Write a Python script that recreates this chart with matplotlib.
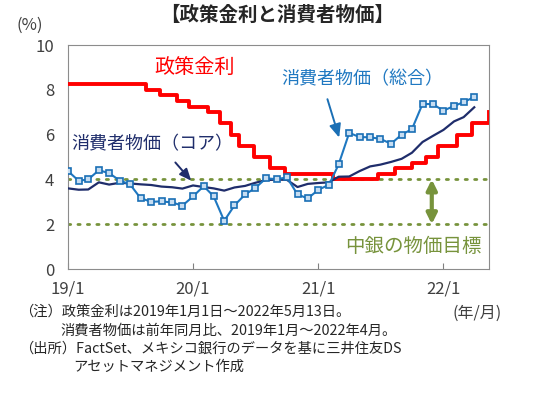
import matplotlib.pyplot as plt
import pandas as pd

plt.rcParams["font.family"] = ["Noto Sans CJK JP", "DejaVu Sans"]

# 消費者物価（総合・コア）前年同月比, 2019/1〜2022/4
cpi_months = pd.date_range("2019-01-01", "2022-04-01", freq="MS")
cpi_headline = [4.37, 3.94, 4.00, 4.41, 4.28, 3.95, 3.78, 3.16, 3.00, 3.02, 2.97, 2.83,
                3.24, 3.70, 3.25, 2.15, 2.84, 3.33, 3.62, 4.05, 4.01, 4.09, 3.33, 3.15,
                3.54, 3.76, 4.67, 6.08, 5.89, 5.88, 5.81, 5.59, 6.00, 6.24, 7.37, 7.36,
                7.07, 7.28, 7.45, 7.68]
cpi_core = [3.60, 3.54, 3.55, 3.87, 3.77, 3.85, 3.82, 3.78, 3.75, 3.68, 3.65, 3.59,
            3.73, 3.66, 3.60, 3.50, 3.64, 3.71, 3.85, 3.97, 3.99, 3.98, 3.66, 3.80,
            3.84, 3.87, 4.12, 4.13, 4.37, 4.58, 4.66, 4.78, 4.92, 5.19, 5.67, 5.94,
            6.21, 6.59, 6.78, 7.22]

# 政策金利の変更日と水準
rate_dates = pd.to_datetime([
    "2019-01-01", "2019-08-16", "2019-09-27", "2019-11-15", "2019-12-20",
    "2020-02-14", "2020-03-20", "2020-04-21", "2020-05-15", "2020-06-26",
    "2020-08-14", "2020-09-25", "2021-02-12", "2021-06-25", "2021-08-13",
    "2021-10-01", "2021-11-12", "2021-12-17", "2022-02-11", "2022-03-25",
    "2022-05-13"])
rate_values = [8.25, 8.00, 7.75, 7.50, 7.25, 7.00, 6.50, 6.00, 5.50, 5.00,
               4.50, 4.25, 4.00, 4.25, 4.50, 4.75, 5.00, 5.50, 6.00, 6.50, 7.00]

target_band = [2, 4]
x_ticks = pd.to_datetime(["2019-01-01", "2020-01-01", "2021-01-01", "2022-01-01"])
x_tick_labels = ["19/1", "20/1", "21/1", "22/1"]

fig = plt.figure(figsize=(5.39, 3.97), dpi=100)
ax = fig.add_axes([0.1262, 0.3224, 0.781, 0.5642])

gray = "#404040"
green = "#77933C"
blue = "#1F78C1"
navy = "#1F2D6B"

for lvl in target_band:
    ax.axhline(lvl, color=green, linestyle=(0, (0.8, 2.6)), linewidth=2,
               dash_capstyle="round", zorder=1)

ax.plot(rate_dates, rate_values, drawstyle="steps-post", color="#FF0000",
        linewidth=2.8, zorder=3)
ax.plot(cpi_months, cpi_core, color=navy, linewidth=1.6, zorder=4)
ax.plot(cpi_months, cpi_headline, color=blue, linewidth=1.5, marker="s",
        markersize=3.8, markerfacecolor="#C6DDF2", markeredgecolor="#1A6FB5",
        markeredgewidth=1.2, zorder=5)

ax.set_xlim(pd.Timestamp("2019-01-01"), pd.Timestamp("2022-05-14"))
ax.set_ylim(0, 10)
ax.set_yticks(range(0, 11, 2))
ax.set_xticks(x_ticks)
ax.set_xticklabels(x_tick_labels)
ax.tick_params(axis="both", labelsize=12, labelcolor=gray, color="#808080",
               direction="in", length=4)
ax.tick_params(axis="y", length=0, pad=10)
ax.tick_params(axis="x", pad=8)
for sp in ax.spines.values():
    sp.set_color("#8C8C8C")
    sp.set_linewidth(0.8)

# 注記
ax.text(pd.Timestamp("2020-01-05"), 9.0, "政策金利", color="#FF0000",
        fontsize=14.5, ha="center", va="center")
ax.text(pd.Timestamp("2021-05-10"), 8.45, "消費者物価（総合）", color=blue,
        fontsize=13, ha="center", va="center")
ax.text(pd.Timestamp("2019-09-05"), 5.55, "消費者物価（コア）", color=navy,
        fontsize=13, ha="center", va="center")
ax.text(pd.Timestamp("2021-10-05"), 1.0, "中銀の物価目標", color=green,
        fontsize=14, ha="center", va="center")

ax.annotate("", xy=(pd.Timestamp("2021-03-05"), 5.75),
            xytext=(pd.Timestamp("2021-01-25"), 7.7),
            arrowprops=dict(arrowstyle="-|>,head_width=0.35,head_length=0.8",
                            color="#1A6FB5", lw=1.4))
ax.annotate("", xy=(pd.Timestamp("2020-01-01"), 3.85),
            xytext=(pd.Timestamp("2019-11-05"), 4.85),
            arrowprops=dict(arrowstyle="-|>,head_width=0.3,head_length=0.7",
                            color=navy, lw=1.4))
ax.annotate("", xy=(pd.Timestamp("2021-11-28"), target_band[0]),
            xytext=(pd.Timestamp("2021-11-28"), target_band[1]),
            arrowprops=dict(arrowstyle="<|-|>,head_width=0.3,head_length=0.6",
                            color=green, lw=3, shrinkA=0, shrinkB=0))

fig.text(0.515, 0.962, "【政策金利と消費者物価】", fontsize=14, fontweight="bold",
         color="#262626", ha="center", va="center")
fig.text(0.056, 0.937, "(%)", fontsize=12, color=gray, ha="center", va="center")

note_kw = dict(fontsize=10.3, color="#262626", va="center")
fig.text(0.035, 0.214, "（注）政策金利は2019年1月1日～2022年5月13日。", **note_kw)
fig.text(0.112, 0.166, "消費者物価は前年同月比、2019年1月～2022年4月。", **note_kw)
fig.text(0.035, 0.122, "（出所）FactSet、メキシコ銀行のデータを基に三井住友DS", **note_kw)
fig.text(0.135, 0.075, "アセットマネジメント作成", **note_kw)
fig.text(0.93, 0.212, "(年/月)", fontsize=11.5, color=gray, ha="right", va="center")

fig.savefig("out.png", dpi=100)
